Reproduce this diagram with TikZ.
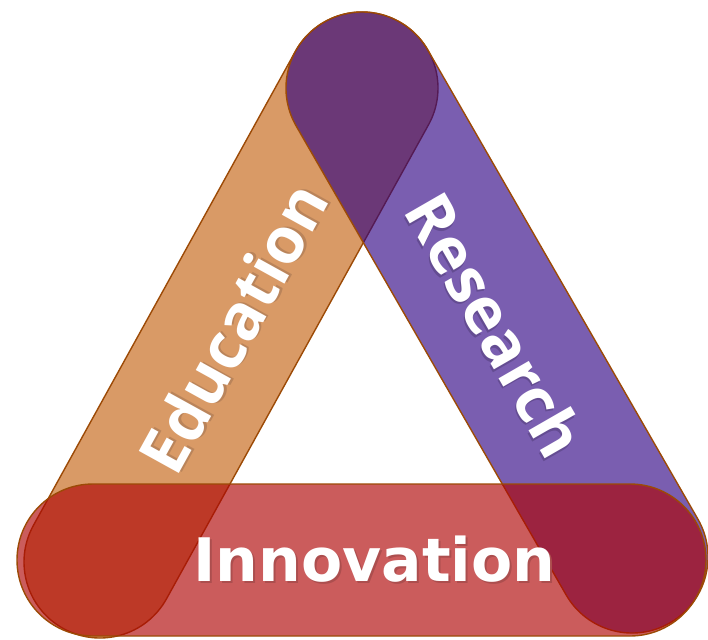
\documentclass[tikz,border=0pt]{standalone}
\usepackage{fontspec}
\setmainfont{DejaVu Sans}
\newfontfamily\bandfont{Open Sans}
\usetikzlibrary{shapes.misc}
\definecolor{eduorange}{RGB}{217,154,102}
\definecolor{respurple}{RGB}{44,0,130}
\definecolor{innred}{RGB}{175,6,6}
\definecolor{rimbrown}{RGB}{156,74,6}
\definecolor{edushade}{RGB}{186,132,90}
\definecolor{resshade}{RGB}{100,76,146}
\definecolor{innshade}{RGB}{172,78,78}
\newcommand{\shadowed}[2]{\makebox[0pt][l]{\kern2pt\raisebox{-2pt}{\textcolor{#1}{#2}}}#2}

\begin{document}
\begin{tikzpicture}[x=1pt, y=-1pt,
    band/.style={rounded rectangle, draw=rimbrown, line width=1.4pt, minimum height=152pt, inner sep=0pt},
    lbl/.style={text=white, font=\fontsize{64}{76}\selectfont\bandfont\bfseries, inner sep=0pt},
    wide lbl/.style={text=white, font=\fontsize{60}{72}\selectfont\bfseries, inner sep=0pt}]
  \useasboundingbox (0,0) rectangle (708,639);
  % the three bands
  \node [band, fill=eduorange, minimum width=693.6pt, rotate=61.07] (edu) at (231,325) {};
  \node [band, fill=respurple, fill opacity=0.63, minimum width=693.2pt, rotate=-60.07] (res) at (497,322.5) {};
  \node [band, fill=innred, fill opacity=0.655, minimum width=689pt] (inn) at (361.5,560) {};
  % labels
  \node [lbl, rotate=61.07] (edu-text) at ([shift={(3,3)}]edu.center) {\shadowed{edushade}{Education}};
  \node [lbl, rotate=-60.07] (res-text) at ([shift={(-2,3)}]res.center) {\shadowed{resshade}{Research}};
  \node [wide lbl] (inn-text) at ([shift={(13,0)}]inn.center) {\shadowed{innshade}{Innovation}};
\end{tikzpicture}
\end{document}
